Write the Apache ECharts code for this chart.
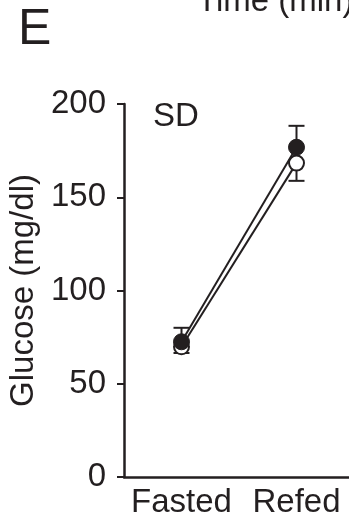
<!DOCTYPE html>
<html><head><meta charset="utf-8">
<script src="https://cdn.jsdelivr.net/npm/echarts@6/dist/echarts.min.js"></script>
<style>html,body{margin:0;padding:0;background:#fff}#c{width:349px;height:521px}</style>
</head><body><div id="c"></div>
<script>
var categories = ['Fasted', 'Refed'];
var filledMean = [72.5, 176.8];
var filledUpper = [80, 188.3];
var openMean = [69.8, 168.3];
var openLower = [66.5, 158.8];
var yTicks = [0, 50, 100, 150, 200];

var INK = '#231f20';
var FONT = '"Liberation Sans", Arial, Helvetica, sans-serif';

function errRender(valsFrom, valsTo) {
  return function (params, api) {
    var i = api.value(0);
    var p0 = api.coord([i, valsFrom[i]]);
    var p1 = api.coord([i, valsTo[i]]);
    var w = 8;
    return {
      type: 'group',
      children: [
        { type: 'line', shape: { x1: p0[0], y1: p0[1], x2: p1[0], y2: p1[1] }, style: { stroke: INK, lineWidth: 2 } },
        { type: 'line', shape: { x1: p1[0] - w, y1: p1[1], x2: p1[0] + w, y2: p1[1] }, style: { stroke: INK, lineWidth: 2 } }
      ]
    };
  };
}

var chart = echarts.init(document.getElementById('c'), null, { renderer: 'canvas' });
chart.setOption({
  animation: false,
  backgroundColor: '#fff',
  grid: { left: 124, right: -5, top: 104, bottom: 44, containLabel: false, outerBoundsMode: 'none' },
  xAxis: {
    type: 'category',
    data: categories,
    boundaryGap: true,
    axisLine: { lineStyle: { color: INK, width: 2.5 } },
    axisTick: { alignWithLabel: true, length: 7, lineStyle: { color: INK, width: 2 } },
    axisLabel: { color: INK, fontSize: 33, fontFamily: FONT, margin: 9, interval: 0,
      hideOverlap: false, showMinLabel: true, showMaxLabel: true },
    splitLine: { show: false }
  },
  yAxis: {
    type: 'value',
    min: 0, max: 200, interval: 50,
    name: 'Glucose (mg/dl)',
    nameLocation: 'middle',
    nameGap: 80,
    nameTextStyle: { color: INK, fontSize: 33, fontFamily: FONT },
    axisLine: { show: true, lineStyle: { color: INK, width: 2.5 } },
    axisTick: { show: true, length: 7, lineStyle: { color: INK, width: 2 } },
    axisLabel: { color: INK, fontSize: 33, fontFamily: FONT, margin: 18,
      formatter: function (v) { return yTicks.indexOf(v) >= 0 ? String(v) : ''; } },
    splitLine: { show: false }
  },
  graphic: [
    { type: 'text', x: 18, y: 5, style: { text: 'E', fontSize: 50, fontFamily: FONT, fill: INK } },
    { type: 'text', x: 153, y: 100, style: { text: 'SD', fontSize: 33, fontFamily: FONT, fill: INK } },
    { type: 'text', x: 197, y: -15, style: { text: 'Time (min)', fontSize: 33, fontFamily: FONT, fill: INK } }
  ],
  series: [
    {
      type: 'custom', name: 'openErr', z: 1,
      renderItem: errRender(openMean, openLower),
      data: categories.map(function (c, i) { return [i]; })
    },
    {
      type: 'custom', name: 'filledErr', z: 1,
      renderItem: errRender(filledMean, filledUpper),
      data: categories.map(function (c, i) { return [i]; })
    },
    {
      type: 'line', name: 'open', z: 2,
      data: openMean,
      symbol: 'circle', symbolSize: 15,
      lineStyle: { color: INK, width: 2 },
      itemStyle: { color: '#fff', borderColor: INK, borderWidth: 2 }
    },
    {
      type: 'line', name: 'filled', z: 3,
      data: filledMean,
      symbol: 'circle', symbolSize: 16,
      lineStyle: { color: INK, width: 2 },
      itemStyle: { color: INK, borderColor: INK, borderWidth: 1 }
    }
  ]
});
</script>
</body></html>
